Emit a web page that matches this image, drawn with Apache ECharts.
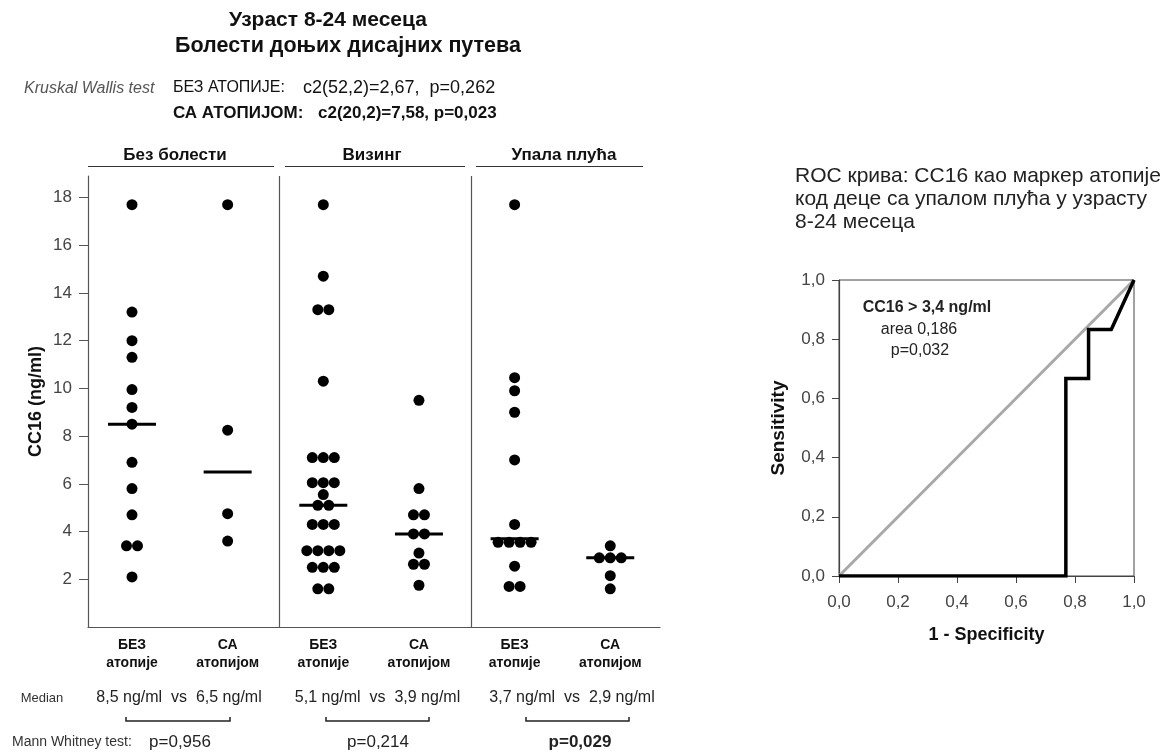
<!DOCTYPE html>
<html>
<head>
<meta charset="utf-8">
<script src="https://cdn.jsdelivr.net/npm/echarts@6/dist/echarts.min.js"></script>
<style>
  html, body { margin: 0; padding: 0; background: #fff; }
  #chart { width: 1168px; height: 754px; }
</style>
</head>
<body>
<div id="chart"></div>
<script>
const FONT = '"Liberation Sans", Arial, sans-serif';

// ---- CC16 (ng/ml), age 8-24 months, by disease group and atopy status ----
const groupTop = ['БЕЗ', 'СА', 'БЕЗ', 'СА', 'БЕЗ', 'СА'];
const groupBottom = ['атопије', 'атопијом', 'атопије', 'атопијом', 'атопије', 'атопијом'];
const panelNames = ['Без болести', 'Визинг', 'Упала плућа'];

const healthyNoAtopy = [17.7, 13.2, 12.0, 11.3, 9.95, 9.2, 8.5, 6.9, 5.8, 4.7, 3.4, 3.4, 2.1];
const healthyAtopy = [17.7, 8.25, 4.75, 3.6];
const wheezeNoAtopy = [17.7, 14.7, 13.3, 13.3, 10.3, 7.1, 7.1, 7.1, 6.05, 6.05, 6.05, 5.55, 5.1, 5.1,
                       4.3, 4.3, 4.3, 3.2, 3.2, 3.2, 3.2, 2.5, 2.5, 2.5, 1.6, 1.6];
const wheezeAtopy = [9.5, 5.8, 4.7, 4.7, 3.9, 3.9, 3.1, 2.63, 2.63, 1.75];
const pneumoniaNoAtopy = [17.7, 10.45, 9.9, 9.0, 7.0, 4.3, 3.55, 3.55, 3.55, 3.55, 2.55, 1.7, 1.7];
const pneumoniaAtopy = [3.4, 2.9, 2.9, 2.9, 2.15, 1.6];

const medians = [8.5, 6.5, 5.1, 3.9, 3.7, 2.9];
const mannWhitneyP = ['0,956', '0,214', '0,029'];
const yTickValues = [2, 4, 6, 8, 10, 12, 14, 16, 18];
const panelEdges = [1.54, 3.55];

// ---- ROC curve: CC16 as an atopy marker in pneumonia ----
const rocFpr = [0, 0.769, 0.769, 0.846, 0.846, 0.923, 1];
const rocTpr = [0, 0, 0.667, 0.667, 0.833, 0.833, 1];
const refFpr = [0, 1];
const refTpr = [0, 1];

const groups = [healthyNoAtopy, healthyAtopy, wheezeNoAtopy, wheezeAtopy, pneumoniaNoAtopy, pneumoniaAtopy];
const comma = (v, d) => v.toFixed(d).replace('.', ',');

// Dot plot: equal values are laid side by side (dodged in pixels)
const DOT = 11;
const dots = [];
groups.forEach((vals, gi) => {
  const counts = {};
  vals.forEach(v => { counts[v] = (counts[v] || 0) + 1; });
  const seen = {};
  vals.forEach(v => {
    const n = counts[v];
    const k = seen[v] = (seen[v] || 0) + 1;
    dots.push({ value: [gi, v], symbolOffset: [(k - 1 - (n - 1) / 2) * DOT, 0] });
  });
});

const chart = echarts.init(document.getElementById('chart'), null, { renderer: 'canvas' });

const txt = (x, y, text, size, opts = {}) => ({
  type: 'text', x, y, silent: true,
  style: Object.assign({
    text, fontFamily: FONT, fontSize: size, fill: '#111',
    align: 'center', verticalAlign: 'middle'
  }, opts)
});
const seg = (pts, opts = {}) => ({
  type: 'polyline', silent: true,
  shape: { points: pts },
  style: Object.assign({ stroke: '#333', lineWidth: 1.2, fill: null }, opts)
});

const graphics = [
  txt(328, 20, 'Узраст 8-24 месеца', 21, { fontWeight: 'bold' }),
  txt(348, 46, 'Болести доњих дисајних путева', 21.5, { fontWeight: 'bold' }),
  txt(24, 89, 'Kruskal Wallis test', 16, { align: 'left', fontStyle: 'italic', fill: '#555' }),
  txt(173, 88, 'БЕЗ АТОПИЈЕ:', 16, { align: 'left' }),
  txt(303, 88, 'c2(52,2)=2,67,  p=0,262', 18, { align: 'left' }),
  txt(173, 113, 'СА АТОПИЈОМ:', 17, { align: 'left', fontWeight: 'bold' }),
  txt(318, 113, 'c2(20,2)=7,58, p=0,023', 17, { align: 'left', fontWeight: 'bold' }),
  txt(42, 698, 'Median', 13, { fill: '#333' }),
  txt(12, 742, 'Mann Whitney test:', 14, { align: 'left', fill: '#333' }),
  txt(795, 165, 'ROC крива: CC16 као маркер атопије\nкод деце са упалом плућа у узрасту\n8-24 месеца', 21,
      { align: 'left', verticalAlign: 'top', lineHeight: 23, fill: '#222' }),
  txt(927, 308, 'CC16 > 3,4 ng/ml', 16, { fontWeight: 'bold', fill: '#222' }),
  txt(919, 330, 'area 0,186', 16, { fill: '#222' }),
  txt(920, 351, 'p=0,032', 16, { fill: '#222' })
];

const headerX = [175, 372, 564];
const underline = [[88, 274], [285, 465], [476, 643]];
const medianX = [179, 377.5, 572];
const pX = [180, 378, 580];
const bracket = [[126, 230], [326, 429], [526, 629]];
panelNames.forEach((name, p) => {
  graphics.push(txt(headerX[p], 155, name, 17, { fontWeight: 'bold' }));
  graphics.push(seg([[underline[p][0], 166.5], [underline[p][1], 166.5]]));
  graphics.push(txt(medianX[p], 698,
    comma(medians[2 * p], 1) + ' ng/ml  vs  ' + comma(medians[2 * p + 1], 1) + ' ng/ml', 16, { fill: '#222' }));
  graphics.push(seg([[bracket[p][0], 717], [bracket[p][0], 721], [bracket[p][1], 721], [bracket[p][1], 717]],
    { stroke: '#222', lineWidth: 1.5 }));
  graphics.push(txt(pX[p], 742, 'p=' + mannWhitneyP[p], 17,
    { fill: '#222', fontWeight: p === 2 ? 'bold' : 'normal' }));
});

const axisGray = '#555';

chart.setOption({
  animation: false,
  backgroundColor: '#fff',
  textStyle: { fontFamily: FONT },
  graphic: graphics,
  grid: [
    { left: 88, top: 176, width: 572, height: 451, containLabel: false },
    { left: 839, top: 280, width: 295, height: 296, show: true, borderColor: '#444', borderWidth: 1, containLabel: false }
  ],
  xAxis: [
    {
      gridIndex: 0, type: 'value', min: -0.46, max: 5.52,
      splitLine: { show: false },
      axisLine: { show: true, onZero: false, lineStyle: { color: axisGray, width: 1.2 } },
      axisTick: { show: false },
      axisLabel: {
        customValues: [0, 1, 2, 3, 4, 5], margin: 9,
        formatter: v => '{a|' + groupTop[Math.round(v)] + '}\n{a|' + groupBottom[Math.round(v)] + '}',
        rich: { a: { fontFamily: FONT, fontSize: 14, fontWeight: 'bold', color: '#111', lineHeight: 18, align: 'center' } }
      }
    },
    {
      gridIndex: 1, type: 'value', min: 0, max: 1, interval: 0.2,
      splitLine: { show: false },
      axisLine: { show: true, onZero: false, lineStyle: { color: '#444', width: 1.2 } },
      axisTick: { show: true, inside: false, length: 7, lineStyle: { color: '#444' } },
      axisLabel: { formatter: v => comma(v, 1), fontSize: 17, color: '#444', margin: 18, fontFamily: FONT },
      name: '1 - Specificity', nameLocation: 'middle', nameGap: 50,
      nameTextStyle: { fontSize: 18, fontWeight: 'bold', color: '#111', fontFamily: FONT }
    }
  ],
  yAxis: [
    {
      gridIndex: 0, type: 'value', min: 0, max: 18.9,
      splitLine: { show: false },
      axisLine: { show: true, onZero: false, lineStyle: { color: axisGray, width: 1.2 } },
      axisTick: { show: true, inside: false, length: 9, customValues: yTickValues, lineStyle: { color: axisGray } },
      axisLabel: { customValues: yTickValues, fontSize: 17, color: '#444', margin: 16, fontFamily: FONT },
      name: 'CC16 (ng/ml)', nameLocation: 'middle', nameGap: 43, nameRotate: 90,
      nameTextStyle: { fontSize: 18, fontWeight: 'bold', color: '#111', fontFamily: FONT }
    },
    {
      gridIndex: 1, type: 'value', min: 0, max: 1, interval: 0.2,
      splitLine: { show: false },
      axisLine: { show: true, onZero: false, lineStyle: { color: '#444', width: 1.2 } },
      axisTick: { show: true, inside: false, length: 7, lineStyle: { color: '#444' } },
      axisLabel: { formatter: v => comma(v, 1), fontSize: 17, color: '#444', margin: 14, fontFamily: FONT },
      name: 'Sensitivity', nameLocation: 'middle', nameGap: 51, nameRotate: 90,
      nameTextStyle: { fontSize: 19, fontWeight: 'bold', color: '#111', fontFamily: FONT }
    }
  ],
  series: [
    {
      name: 'CC16', type: 'scatter', xAxisIndex: 0, yAxisIndex: 0,
      symbol: 'circle', symbolSize: DOT,
      itemStyle: { color: '#000', opacity: 1 },
      data: dots,
      markLine: {
        silent: true, symbol: 'none', label: { show: false },
        lineStyle: { color: axisGray, width: 1.2, type: 'solid', opacity: 1 },
        data: panelEdges.map(x => ({ xAxis: x }))
      },
      z: 3
    },
    {
      name: 'Median', type: 'scatter', xAxisIndex: 0, yAxisIndex: 0,
      symbol: 'rect', symbolSize: [48, 3],
      itemStyle: { color: '#000', opacity: 1 },
      data: medians.map((m, i) => [i, m]),
      z: 4
    },
    {
      name: 'Reference', type: 'line', xAxisIndex: 1, yAxisIndex: 1,
      showSymbol: false, symbol: 'none',
      lineStyle: { color: '#a8a8a8', width: 3 },
      data: refFpr.map((x, i) => [x, refTpr[i]]),
      z: 3
    },
    {
      name: 'ROC', type: 'line', xAxisIndex: 1, yAxisIndex: 1,
      showSymbol: false, symbol: 'none',
      lineStyle: { color: '#000', width: 3.5, join: 'miter' },
      data: rocFpr.map((x, i) => [x, rocTpr[i]]),
      z: 4
    }
  ]
});
</script>
</body>
</html>
